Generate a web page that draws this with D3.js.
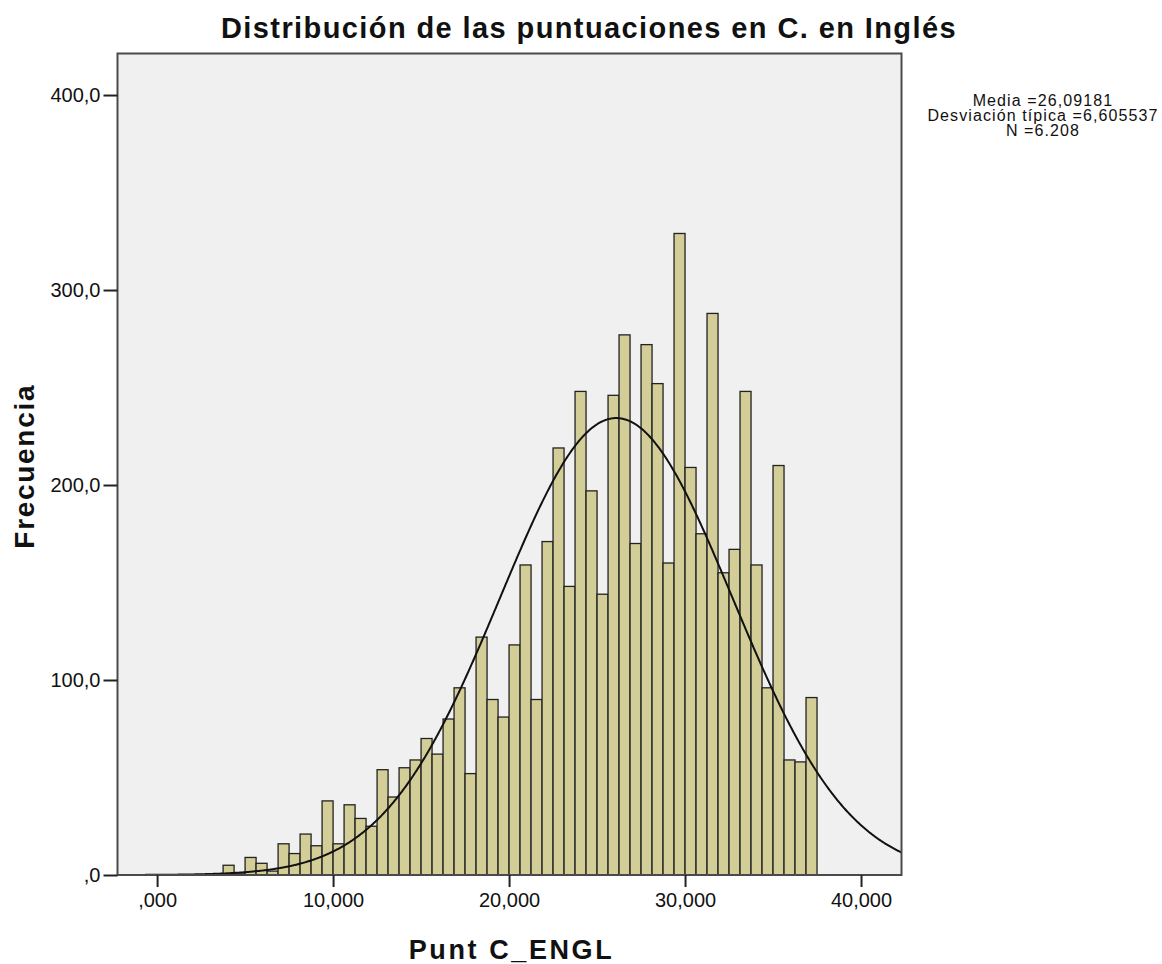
<!DOCTYPE html>
<html>
<head>
<meta charset="utf-8">
<script src="https://cdn.jsdelivr.net/npm/d3@7"></script>
<style>
  html, body { margin: 0; padding: 0; background: #fff; }
  svg { display: block; }
  text { font-family: "Liberation Sans", Arial, sans-serif; }
</style>
</head>
<body>
<svg id="chart" width="1162" height="964"></svg>
<script>
// ---- data ----
const binStart = 3.75;
const binWidth = 0.625;
const counts = [5,1,9,6,2,16,11,21,15,38,16,36,29,25,54,40,55,59,70,62,80,96,52,122,90,81,118,159,90,171,219,148,248,197,144,246,277,170,272,252,160,329,209,175,288,155,167,248,159,96,210,59,58,91];
const xTickValues = [0, 10, 20, 30, 40];
const xTickLabels = [",000", "10,000", "20,000", "30,000", "40,000"];
const yTickValues = [0, 100, 200, 300, 400];
const yTickLabels = [",0", "100,0", "200,0", "300,0", "400,0"];
const mean = 26.09181;
const sd = 6.605537;
const nTotal = 6208;
const legendLines = ["Media =26,09181", "Desviación típica =6,605537", "N =6.208"];
const titleText = "Distribución de las puntuaciones en C. en Inglés";
const xTitle = "Punt C_ENGL";
const yTitle = "Frecuencia";

// ---- layout ----
const plot = { left: 117.5, right: 901.5, top: 53.5, bottom: 875 };
const svg = d3.select("#chart");

const x = d3.scaleLinear().domain([-2.25, 42.3]).range([plot.left, plot.right]);
const y = d3.scaleLinear().domain([0, 421.3]).range([plot.bottom, plot.top]);

// background
svg.append("rect")
  .attr("x", plot.left).attr("y", plot.top)
  .attr("width", plot.right - plot.left).attr("height", plot.bottom - plot.top)
  .attr("fill", "#f0f0f0");

svg.append("clipPath").attr("id", "clip")
  .append("rect")
  .attr("x", plot.left).attr("y", plot.top)
  .attr("width", plot.right - plot.left).attr("height", plot.bottom - plot.top);

// bars
const bins = counts.map((c, i) => ({ x0: binStart + i * binWidth, x1: binStart + (i + 1) * binWidth, n: c }));
svg.append("g")
  .selectAll("rect")
  .data(bins.filter(d => d.n > 0))
  .join("rect")
  .attr("x", d => x(d.x0))
  .attr("y", d => y(d.n))
  .attr("width", d => x(d.x1) - x(d.x0))
  .attr("height", d => y(0) - y(d.n))
  .attr("fill", "#d3ce97")
  .attr("stroke", "#222")
  .attr("stroke-width", 1.3);

// normal curve
const xs = d3.range(-2.25, 42.31, 0.05);
const curve = xs.map(v => ({
  v,
  f: nTotal * binWidth * Math.exp(-0.5 * Math.pow((v - mean) / sd, 2)) / (sd * Math.sqrt(2 * Math.PI))
}));
svg.append("path")
  .datum(curve)
  .attr("clip-path", "url(#clip)")
  .attr("fill", "none")
  .attr("stroke", "#111")
  .attr("stroke-width", 2)
  .attr("d", d3.line().x(d => x(d.v)).y(d => y(d.f)));

// frame
svg.append("rect")
  .attr("x", plot.left).attr("y", plot.top)
  .attr("width", plot.right - plot.left).attr("height", plot.bottom - plot.top)
  .attr("fill", "none")
  .attr("stroke", "#4a4a4a")
  .attr("stroke-width", 2);

// x axis
const xAxis = d3.axisBottom(x)
  .tickValues(xTickValues)
  .tickSize(12)
  .tickPadding(6)
  .tickFormat((d, i) => xTickLabels[i]);
const gx = svg.append("g").attr("transform", `translate(0,${plot.bottom})`).call(xAxis);
gx.select(".domain").remove();
gx.selectAll("line").attr("stroke", "#222").attr("stroke-width", 2);
gx.selectAll("text")
  .attr("fill", "#111")
  .style("font-size", "20px")
  .style("font-family", "'Liberation Sans', Arial, sans-serif");

// y axis
const yAxis = d3.axisLeft(y)
  .tickValues(yTickValues)
  .tickSize(14)
  .tickPadding(3)
  .tickFormat((d, i) => yTickLabels[i]);
const gy = svg.append("g").attr("transform", `translate(${plot.left},0)`).call(yAxis);
gy.select(".domain").remove();
gy.selectAll("line").attr("stroke", "#222").attr("stroke-width", 2);
gy.selectAll("text")
  .attr("fill", "#111")
  .style("font-size", "20px")
  .style("font-family", "'Liberation Sans', Arial, sans-serif");

// title
svg.append("text")
  .attr("x", 589).attr("y", 38)
  .attr("text-anchor", "middle")
  .style("font-size", "29px")
  .style("font-weight", "bold")
  .style("letter-spacing", "1.4px")
  .attr("fill", "#111")
  .text(titleText);

// x title
svg.append("text")
  .attr("x", (plot.left + plot.right) / 2 + 2).attr("y", 959)
  .attr("text-anchor", "middle")
  .style("font-size", "27px")
  .style("font-weight", "bold")
  .style("letter-spacing", "2.6px")
  .attr("fill", "#111")
  .text(xTitle);

// y title
svg.append("text")
  .attr("transform", `translate(34,${(plot.top + plot.bottom) / 2 + 2}) rotate(-90)`)
  .attr("text-anchor", "middle")
  .style("font-size", "28px")
  .style("font-weight", "bold")
  .style("letter-spacing", "1.7px")
  .attr("fill", "#111")
  .text(yTitle);

// legend
svg.append("g")
  .selectAll("text")
  .data(legendLines)
  .join("text")
  .attr("x", 1043)
  .attr("y", (d, i) => 106 + i * 15)
  .attr("text-anchor", "middle")
  .style("font-size", "16px")
  .style("letter-spacing", "1.1px")
  .attr("fill", "#111")
  .text(d => d);
</script>
</body>
</html>
